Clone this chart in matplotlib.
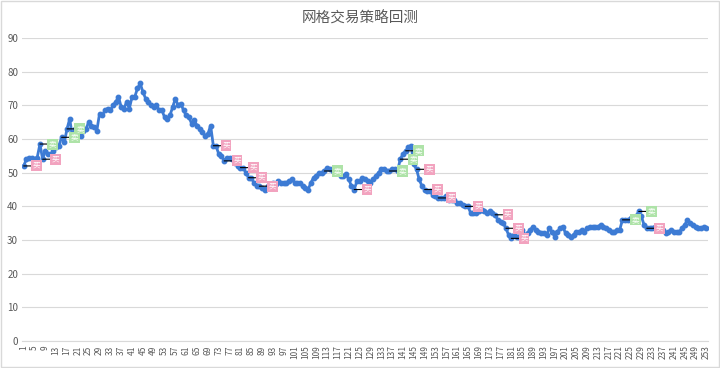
import matplotlib
matplotlib.use("Agg")
import matplotlib.pyplot as plt
from matplotlib.patches import Rectangle

plt.rcParams['font.family'] = ['Noto Sans CJK SC', 'DejaVu Sans']

# 每日价格
prices = [
    52, 54, 54.5, 54.5, 54, 54.5, 58.5, 54, 56.5, 55.5,
    55.5, 56.5, 57.5, 58, 60.5, 59, 63, 66, 60.5, 63,
    62.5, 61, 62.5, 63, 65, 64, 63.5, 62.5, 67.5, 67,
    68.5, 69, 68.5, 70, 71, 72.5, 69.5, 69, 71, 69,
    72.5, 72.5, 75, 76.5, 74, 72, 71, 70, 69.5, 70,
    68.5, 68.5, 66.5, 66, 67, 69.5, 72, 70, 70.5, 68.5,
    67, 66.5, 64.5, 65.5, 64, 63, 62, 61, 61.5, 64,
    58, 58, 55.5, 55, 53.5, 54.5, 54.5, 54, 53, 52,
    51.5, 51.5, 50, 48.5, 48.5, 47, 46, 46, 45.5, 45,
    46, 46.5, 47, 46.5, 47.5, 47, 47, 47, 47.5, 48,
    47, 47, 47, 46, 45.5, 45, 47, 48.5, 49, 50,
    50, 50.5, 51.5, 51, 50.5, 50, 50, 49, 49, 49.5,
    48, 46, 45, 47.5, 47.5, 48.5, 48, 47.5, 47, 48,
    49, 50, 51, 51, 50.5, 50.5, 51, 51, 50.5, 54,
    55.5, 56.5, 57.5, 58, 52.5, 51, 48, 46, 45, 44.5,
    44.5, 43.5, 43, 42.5, 42.5, 42.5, 43, 42, 42, 42,
    41, 41, 40.5, 40, 40, 38, 38, 38, 38.5, 39,
    38.5, 38, 38.5, 38, 37.5, 36, 35.5, 35, 33.5, 31.5,
    30.5, 31.5, 31, 31, 33, 31.5, 32, 33, 34, 33,
    32.5, 32, 32, 31.5, 33.5, 32.5, 31, 32.5, 33.5, 34,
    32, 31.5, 31, 31.5, 32.5, 32.5, 33, 32.5, 33.5, 34,
    34, 34, 34, 34.5, 34, 33.5, 33, 32.5, 32.5, 33,
    33, 36, 36, 36, 36.5, 36.5, 37, 38.5, 37, 34.5,
    33.5, 33.5, 33.5, 34, 34, 33.5, 33, 32, 32.5, 33,
    32.5, 32.5, 32.5, 33.5, 34.5, 36, 35, 34.5, 34, 33.5,
    33.5, 33.8, 33.5,
]
days = list(range(1, len(prices) + 1))

# 买入 / 卖出 发生的日期
buy_days = [1, 8, 71, 75, 81, 84, 88, 123, 146, 149, 154, 164, 175, 179, 181, 231]
sell_days = [7, 15, 17, 112, 136, 140, 142, 222, 228]

x_ticks = list(range(1, len(prices) + 1, 4))
y_ticks = list(range(0, 91, 10))

fig = plt.figure(figsize=(7.2, 3.68), dpi=100)
ax = fig.add_axes([0.031, 0.073, 0.952, 0.824])

ax.plot(days, prices, color="#3d7bd4", linewidth=2, marker="o",
        markersize=3.2, zorder=3)

def mark(day_list, text, face):
    for d in day_list:
        ax.annotate(text, xy=(d, prices[d - 1]), xytext=(9, 0),
                    textcoords="offset pixels", ha="left", va="center",
                    fontsize=5.5, color="white",
                    bbox=dict(boxstyle="square,pad=0.2", fc=face, ec="none"),
                    arrowprops=dict(arrowstyle="-", color="black", lw=0.8,
                                    shrinkA=0, shrinkB=0),
                    zorder=4)

mark(buy_days, "买", "#f2a3bf")
mark(sell_days, "卖", "#aee3a8")

ax.set_xlim(0.5, len(prices) + 0.5)
ax.set_ylim(0, 90)
ax.set_xticks(x_ticks)
ax.set_xticklabels([str(t) for t in x_ticks], rotation=90, fontsize=6,
                   color="#595959")
ax.set_yticks(y_ticks)
ax.set_yticklabels([str(t) for t in y_ticks], fontsize=7, color="#595959")
ax.tick_params(length=0, pad=3)
ax.grid(axis="y", color="#d9d9d9", linewidth=0.8)
ax.set_axisbelow(True)
for s in ["top", "right", "left"]:
    ax.spines[s].set_visible(False)
ax.spines["bottom"].set_color("#d9d9d9")

fig.suptitle("网格交易策略回测", y=0.97, fontsize=10.5, color="#595959")

fig.patches.append(Rectangle((0.002, 0.003), 0.996, 0.994,
                             transform=fig.transFigure, fill=False,
                             edgecolor="#d9d9d9", linewidth=1))

fig.savefig("out.png", dpi=100)
